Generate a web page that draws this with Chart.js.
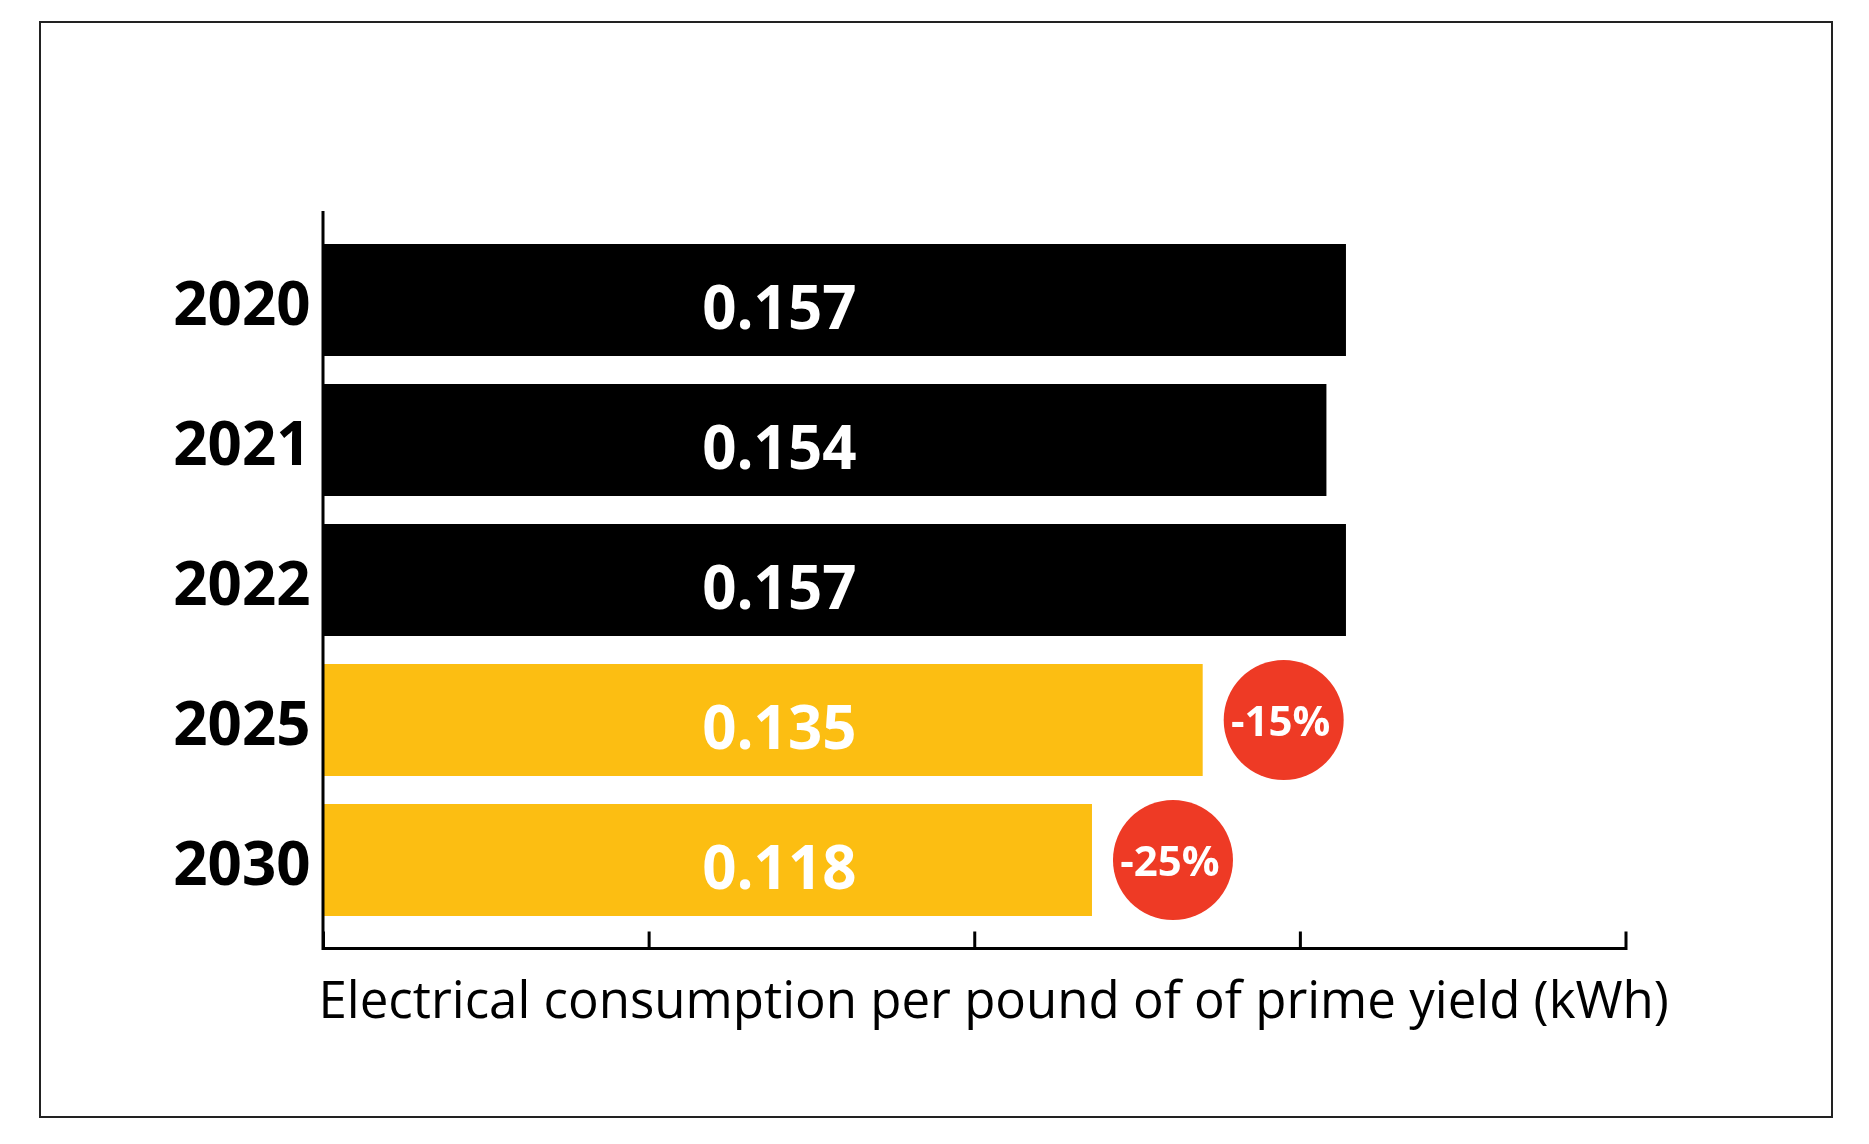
<!DOCTYPE html>
<html>
<head>
<meta charset="utf-8">
<script src="https://cdn.jsdelivr.net/npm/chart.js@4"></script>
<style>
  body { margin: 0; background: #fff; }
  #wrap { width: 1869px; height: 1144px; position: relative; }
</style>
</head>
<body>
<div id="wrap"><canvas id="chart"></canvas></div>
<script>
// Chart data
const years = ['2020', '2021', '2022', '2025', '2030'];
const consumption = [0.157, 0.154, 0.157, 0.135, 0.118];
const reductions = [null, null, null, '-15%', '-25%'];
const xTicks = [0, 0.05, 0.1, 0.15, 0.2];
const axisTitle = 'Electrical consumption per pound of of prime yield (kWh)';

const BLACK = '#000000';
const YELLOW = '#FCBE12';
const RED = '#EE3A25';
const FONT = '"Open Sans", sans-serif';

// Frame, axes, labels and badges
const decorations = {
  id: 'decorations',
  afterDatasetsDraw(chart) {
    const ctx = chart.ctx;
    const x = chart.scales.x;
    const y = chart.scales.y;
    const meta = chart.getDatasetMeta(0);
    ctx.save();

    // outer frame
    ctx.strokeStyle = '#222';
    ctx.lineWidth = 2;
    ctx.strokeRect(40, 22, 1792, 1095);

    // axis lines
    ctx.strokeStyle = '#000';
    ctx.lineWidth = 3;
    const x0 = x.getPixelForValue(0);
    const axisY = y.bottom + 18.5;
    ctx.beginPath();
    ctx.moveTo(x0 - 0.5, y.top - 19);
    ctx.lineTo(x0 - 0.5, axisY + 1.5);
    ctx.moveTo(x0 - 2, axisY);
    ctx.lineTo(x.getPixelForValue(xTicks[xTicks.length - 1]) + 1.5, axisY);
    xTicks.forEach((t) => {
      const px = x.getPixelForValue(t);
      ctx.moveTo(px, axisY);
      ctx.lineTo(px, axisY - 17);
    });
    ctx.stroke();

    // year labels
    ctx.fillStyle = '#000';
    ctx.font = `700 60px ${FONT}`;
    ctx.textAlign = 'right';
    ctx.textBaseline = 'alphabetic';
    years.forEach((yr, i) => {
      ctx.fillText(yr, x0 - 13, y.getPixelForValue(i) + 25);
    });

    // value labels
    ctx.fillStyle = '#fff';
    ctx.textAlign = 'center';
    consumption.forEach((v, i) => {
      ctx.fillText(v.toFixed(3), x.getPixelForValue(0.07), y.getPixelForValue(i) + 29);
    });

    // reduction badges
    ctx.font = `700 42px ${FONT}`;
    reductions.forEach((r, i) => {
      if (!r) return;
      const bar = meta.data[i];
      const cx = bar.x + 81;
      const cy = bar.y;
      ctx.fillStyle = RED;
      ctx.beginPath();
      ctx.arc(cx, cy, 60, 0, Math.PI * 2);
      ctx.fill();
      ctx.fillStyle = '#fff';
      ctx.fillText(r, cx - 3, cy + 16);
    });

    // axis title
    ctx.fillStyle = '#000';
    ctx.font = `400 51px ${FONT}`;
    ctx.textAlign = 'left';
    ctx.fillText(axisTitle, x0 - 5, 1018);

    ctx.restore();
  }
};

new Chart(document.getElementById('chart'), {
  type: 'bar',
  data: {
    labels: years,
    datasets: [
      {
        data: consumption,
        backgroundColor: reductions.map((r) => (r ? YELLOW : BLACK)),
        barPercentage: 0.8,
        categoryPercentage: 1,
      },
    ],
  },
  options: {
    indexAxis: 'y',
    responsive: true,
    maintainAspectRatio: false,
    animation: false,
    layout: {
      padding: { left: 323.5, right: 243, top: 230, bottom: 214 },
    },
    scales: {
      x: { min: 0, max: 0.2, display: false },
      y: { display: false },
    },
    plugins: {
      legend: { display: false },
      tooltip: { enabled: false },
    },
  },
  plugins: [decorations],
});
</script>
</body>
</html>
